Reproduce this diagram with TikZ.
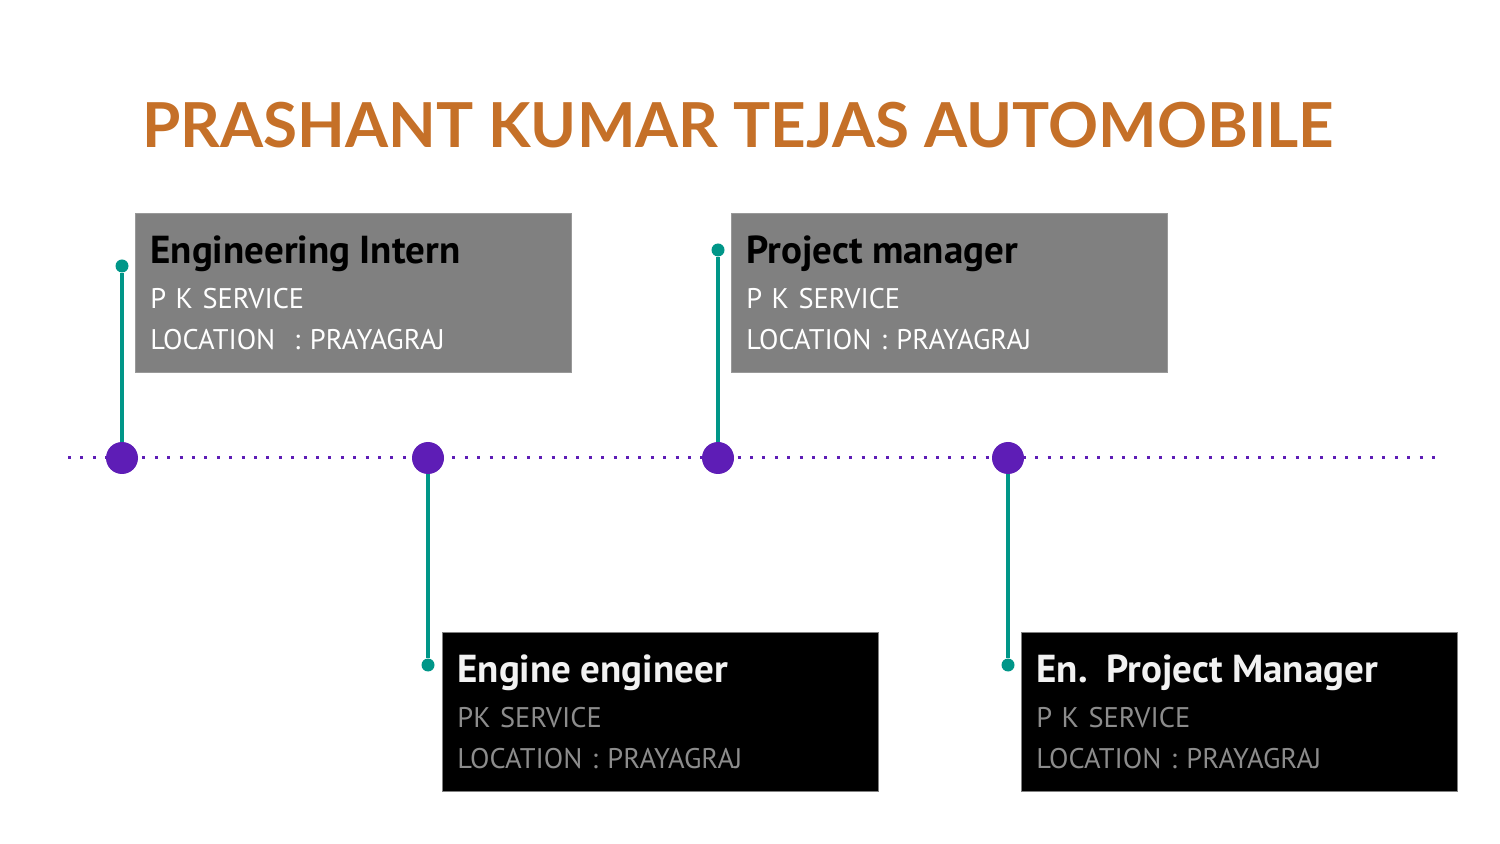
\documentclass[tikz,border=0pt]{standalone}
\usepackage{fontspec}
\setmainfont{PT Sans}
\newfontfamily\titlefont{Lato}
\usetikzlibrary{positioning}
\definecolor{pktitle}{RGB}{197,112,40}
\definecolor{pkgray}{RGB}{128,128,128}
\definecolor{pkpurple}{RGB}{94,29,182}
\definecolor{pkteal}{RGB}{0,150,136}
\definecolor{pkdim}{RGB}{140,140,140}
\definecolor{pkwhite}{RGB}{242,242,242}

\begin{document}
\begin{tikzpicture}[
      x=0.5pt, y=-0.5pt,
      card/.style={anchor=north west, minimum width=218pt, minimum height=79.5pt, text width=203pt, align=left, inner xsep=7.5pt, inner ysep=0pt, line width=0.4pt, font=\fontsize{14.2}{20.5}\selectfont},
      lightcard/.style={card, fill=pkgray, draw=pkgray!80!white, text=white},
      darkcard/.style={card, fill=black, draw=pkgray, text=pkdim},
      bigdot/.style={circle, fill=pkpurple, minimum size=16pt, inner sep=0pt},
      pin/.style={circle, fill=pkteal, minimum size=6.5pt, inner sep=0pt},
      stem/.style={pkteal, line width=1.6pt}
    ]
      \useasboundingbox (0,0) rectangle (1500,844);

      % title
      \node[anchor=base, text=pktitle, font=\titlefont\bfseries\fontsize{31}{34}\selectfont] (title) at (738,148) {PRASHANT KUMAR TEJAS AUTOMOBILE};

      % timeline
      \coordinate (tl) at (68,458);
      \coordinate (tr) at (1436,458);
      \draw[pkpurple, line width=1.5pt, dash pattern=on 1.5pt off 4.7pt] (tl) -- (tr);

      \node[bigdot] (d1) at (122,458) {};
      \node[bigdot] (d2) at (428,458) {};
      \node[bigdot] (d3) at (718,458) {};
      \node[bigdot] (d4) at (1008,458) {};

      % cards
      \node[lightcard] (intern) at (135,213) {
        {\bfseries\fontsize{19.5}{22.5}\selectfont\color{black} Engineering Intern}\\[2pt]
        P K SERVICE\\
        LOCATION\ \ : PRAYAGRAJ
      };
      \node[lightcard] (pm) at (731,213) {
        {\bfseries\fontsize{19.5}{22.5}\selectfont\color{black} Project manager}\\[2pt]
        P K SERVICE\\
        LOCATION : PRAYAGRAJ
      };
      \node[darkcard] (engine) at (442,632) {
        {\bfseries\fontsize{19.5}{22.5}\selectfont\color{pkwhite} Engine engineer}\\[2pt]
        PK SERVICE\\
        LOCATION : PRAYAGRAJ
      };
      \node[darkcard] (enpm) at (1021,632) {
        {\bfseries\fontsize{19.5}{22.5}\selectfont\color{pkwhite} En.\ \ Project Manager}\\[2pt]
        P K SERVICE\\
        LOCATION : PRAYAGRAJ
      };

      % pins
      \node[pin] (p1) at (122,266) {};
      \node[pin] (p2) at (428,665) {};
      \node[pin] (p3) at (718,250) {};
      \node[pin] (p4) at (1008,665) {};

      \draw[stem] (d1) -- (p1);
      \draw[stem] (d2) -- (p2);
      \draw[stem] (d3) -- (p3);
      \draw[stem] (d4) -- (p4);
    \end{tikzpicture}
\end{document}
